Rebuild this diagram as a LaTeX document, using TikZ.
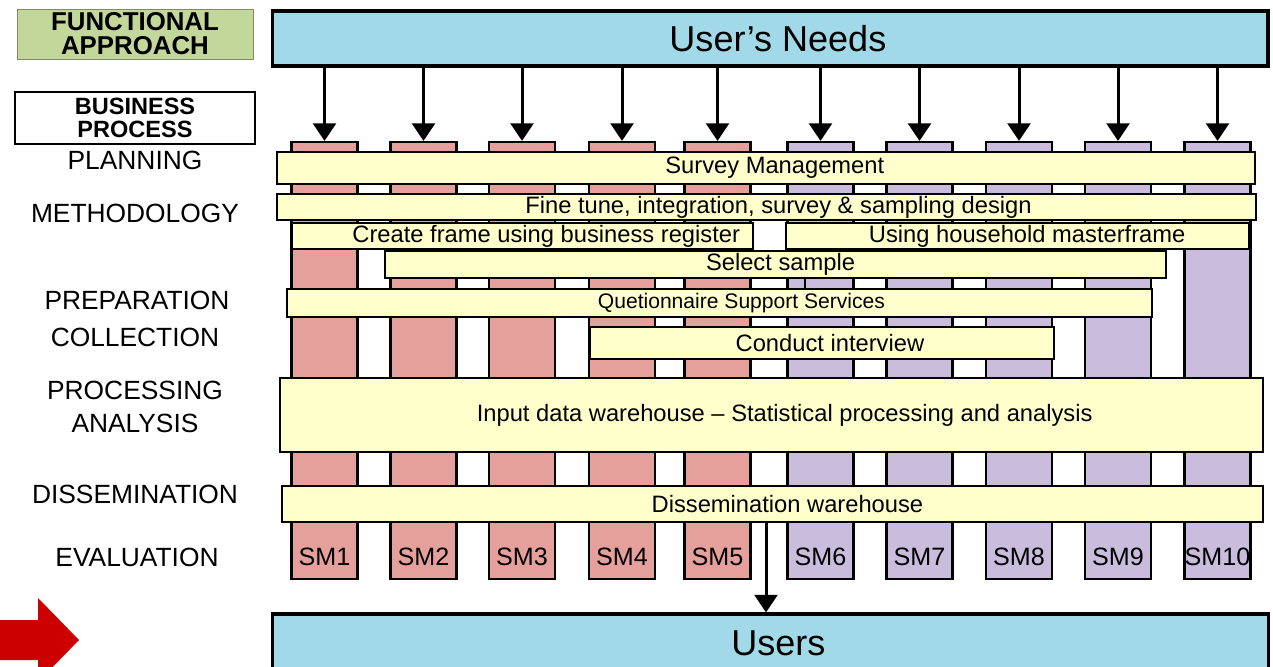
\documentclass[tikz,border=0pt]{standalone}
\usepackage{fontspec}
\setmainfont{Liberation Sans}
\usetikzlibrary{arrows.meta}
\definecolor{needsblue}{RGB}{162,217,232}
\definecolor{smpink}{RGB}{230,160,156}
\definecolor{smlilac}{RGB}{202,188,221}
\definecolor{bandcream}{RGB}{255,255,204}
\definecolor{approachgreen}{RGB}{196,215,155}
\definecolor{arrowred}{RGB}{204,0,0}
\begin{document}
\begin{tikzpicture}[x=0.02cm,y=-0.02cm,
    smbar/.style={draw,line width=1.3pt,minimum width=1.32cm,minimum height=8.74cm,inner sep=0pt},
    band/.style={draw,line width=1.4pt,fill=bandcream,inner sep=0pt,font=\fontsize{13.5}{14}\selectfont},
    users/.style={draw,line width=1.8pt,fill=needsblue,inner sep=0pt,minimum width=19.92cm,font=\fontsize{20.5}{22}\selectfont},
    nudge/.style={execute at begin node={\hspace*{#1}}},
    stage/.style={font=\fontsize{15}{16}\selectfont},
    smlabel/.style={font=\fontsize{14.3}{15}\selectfont},
    down/.style={line width=1.7pt,-{Triangle[width=13pt,length=10pt]}}]
  \useasboundingbox (0,0) rectangle (1273,666);
  \node[fill=approachgreen,draw=approachgreen!65!black,minimum width=4.72cm,minimum height=1cm,inner sep=0pt,align=center,
    font=\bfseries\fontsize{14.7}{13.6}\selectfont] (approach) at (135,34) {FUNCTIONAL\\APPROACH};
  \node[draw,line width=1.2pt,minimum width=4.8cm,minimum height=1.04cm,inner sep=0pt,align=center,
    font=\bfseries\fontsize{13.4}{13.4}\selectfont] (business) at (135,118) {BUSINESS\\PROCESS};
  \node[stage] (planning) at (135,160) {PLANNING};
  \node[stage] (methodology) at (135,213) {METHODOLOGY};
  \node[stage] (preparation) at (137,300) {PREPARATION};
  \node[stage] (collection) at (135,337) {COLLECTION};
  \node[stage] (processing) at (135,390) {PROCESSING};
  \node[stage] (analysis) at (135,423) {ANALYSIS};
  \node[stage] (dissemination) at (135,494) {DISSEMINATION};
  \node[stage] (evaluation) at (137,557) {EVALUATION};
  \fill[arrowred] (0,620) -- (38,620) -- (38,598) -- (79,640) -- (38,682) -- (38,660) -- (0,660) -- cycle;
  \node[users,minimum height=1.1cm,nudge=9pt] (needs) at (770,38.5) {User's Needs};
  \node[users,minimum height=1.16cm,nudge=9pt] (users) at (770.5,643) {Users};
  \node[smbar,fill=smpink] (b1) at (324.5,360.5) {};
  \node[smbar,fill=smpink] (b2) at (423.5,360.5) {};
  \node[smbar,fill=smpink] (b3) at (522,360.5) {};
  \node[smbar,fill=smpink] (b4) at (622,360.5) {};
  \node[smbar,fill=smpink] (b5) at (717.5,360.5) {};
  \node[smbar,fill=smlilac] (b6) at (820.5,360.5) {};
  \node[smbar,fill=smlilac] (b7) at (919.5,360.5) {};
  \node[smbar,fill=smlilac] (b8) at (1019,360.5) {};
  \node[smbar,fill=smlilac] (b9) at (1118,360.5) {};
  \node[smbar,fill=smlilac] (b10) at (1217.5,360.5) {};
  \node[smlabel] (l1) at ([yshift=13.5pt]b1.south) {SM1};
  \node[smlabel] (l2) at ([yshift=13.5pt]b2.south) {SM2};
  \node[smlabel] (l3) at ([yshift=13.5pt]b3.south) {SM3};
  \node[smlabel] (l4) at ([yshift=13.5pt]b4.south) {SM4};
  \node[smlabel] (l5) at ([yshift=13.5pt]b5.south) {SM5};
  \node[smlabel] (l6) at ([yshift=13.5pt]b6.south) {SM6};
  \node[smlabel] (l7) at ([yshift=13.5pt]b7.south) {SM7};
  \node[smlabel] (l8) at ([yshift=13.5pt]b8.south) {SM8};
  \node[smlabel] (l9) at ([yshift=13.5pt]b9.south) {SM9};
  \node[smlabel] (l10) at ([yshift=13.5pt]b10.south) {SM10};
  \node[band,minimum width=19.56cm,minimum height=0.64cm,nudge=10pt] (mgmt) at (766,168) {Survey Management};
  \node[band,minimum width=19.58cm,minimum height=0.52cm,nudge=13.6pt] (design) at (766.5,207) {Fine tune, integration, survey \& sampling design};
  \node[band,minimum width=9.22cm,minimum height=0.52cm,nudge=27pt] (frame) at (522.5,236) {Create frame using business register};
  \node[band,minimum width=9.26cm,minimum height=0.52cm,nudge=11pt] (master) at (1017.5,236) {Using household masterframe};
  \node[band,minimum width=15.62cm,minimum height=0.54cm,nudge=5.7pt] (sample) at (775.5,264.5) {Select sample};
  \node[band,minimum width=17.3cm,minimum height=0.56cm,nudge=25pt,font=\fontsize{12}{13}\selectfont] (quest) at (719.5,303) {Quetionnaire Support Services};
  \node[band,minimum width=9.28cm,minimum height=0.64cm,nudge=9pt] (interview) at (822,343) {Conduct interview};
  \node[band,minimum width=19.66cm,minimum height=1.48cm,nudge=15pt] (warehouse) at (771.5,415) {Input data warehouse -- Statistical processing and analysis};
  \node[band,minimum width=19.62cm,minimum height=0.72cm,nudge=17pt] (dissem) at (772.5,504) {Dissemination warehouse};
  \coordinate (tick) at (805,0);
  \coordinate (drop) at (766,0);
  \draw[line width=1pt] (sample.south -| tick) -- (quest.north -| tick);
  \begin{scope}[down]
    \draw (b1.north |- needs.south) to (b1.north);
    \draw (b2.north |- needs.south) to (b2.north);
    \draw (b3.north |- needs.south) to (b3.north);
    \draw (b4.north |- needs.south) to (b4.north);
    \draw (b5.north |- needs.south) to (b5.north);
    \draw (b6.north |- needs.south) to (b6.north);
    \draw (b7.north |- needs.south) to (b7.north);
    \draw (b8.north |- needs.south) to (b8.north);
    \draw (b9.north |- needs.south) to (b9.north);
    \draw (b10.north |- needs.south) to (b10.north);
    \draw (dissem.south -| drop) to (users.north -| drop);
  \end{scope}
\end{tikzpicture}
\end{document}
